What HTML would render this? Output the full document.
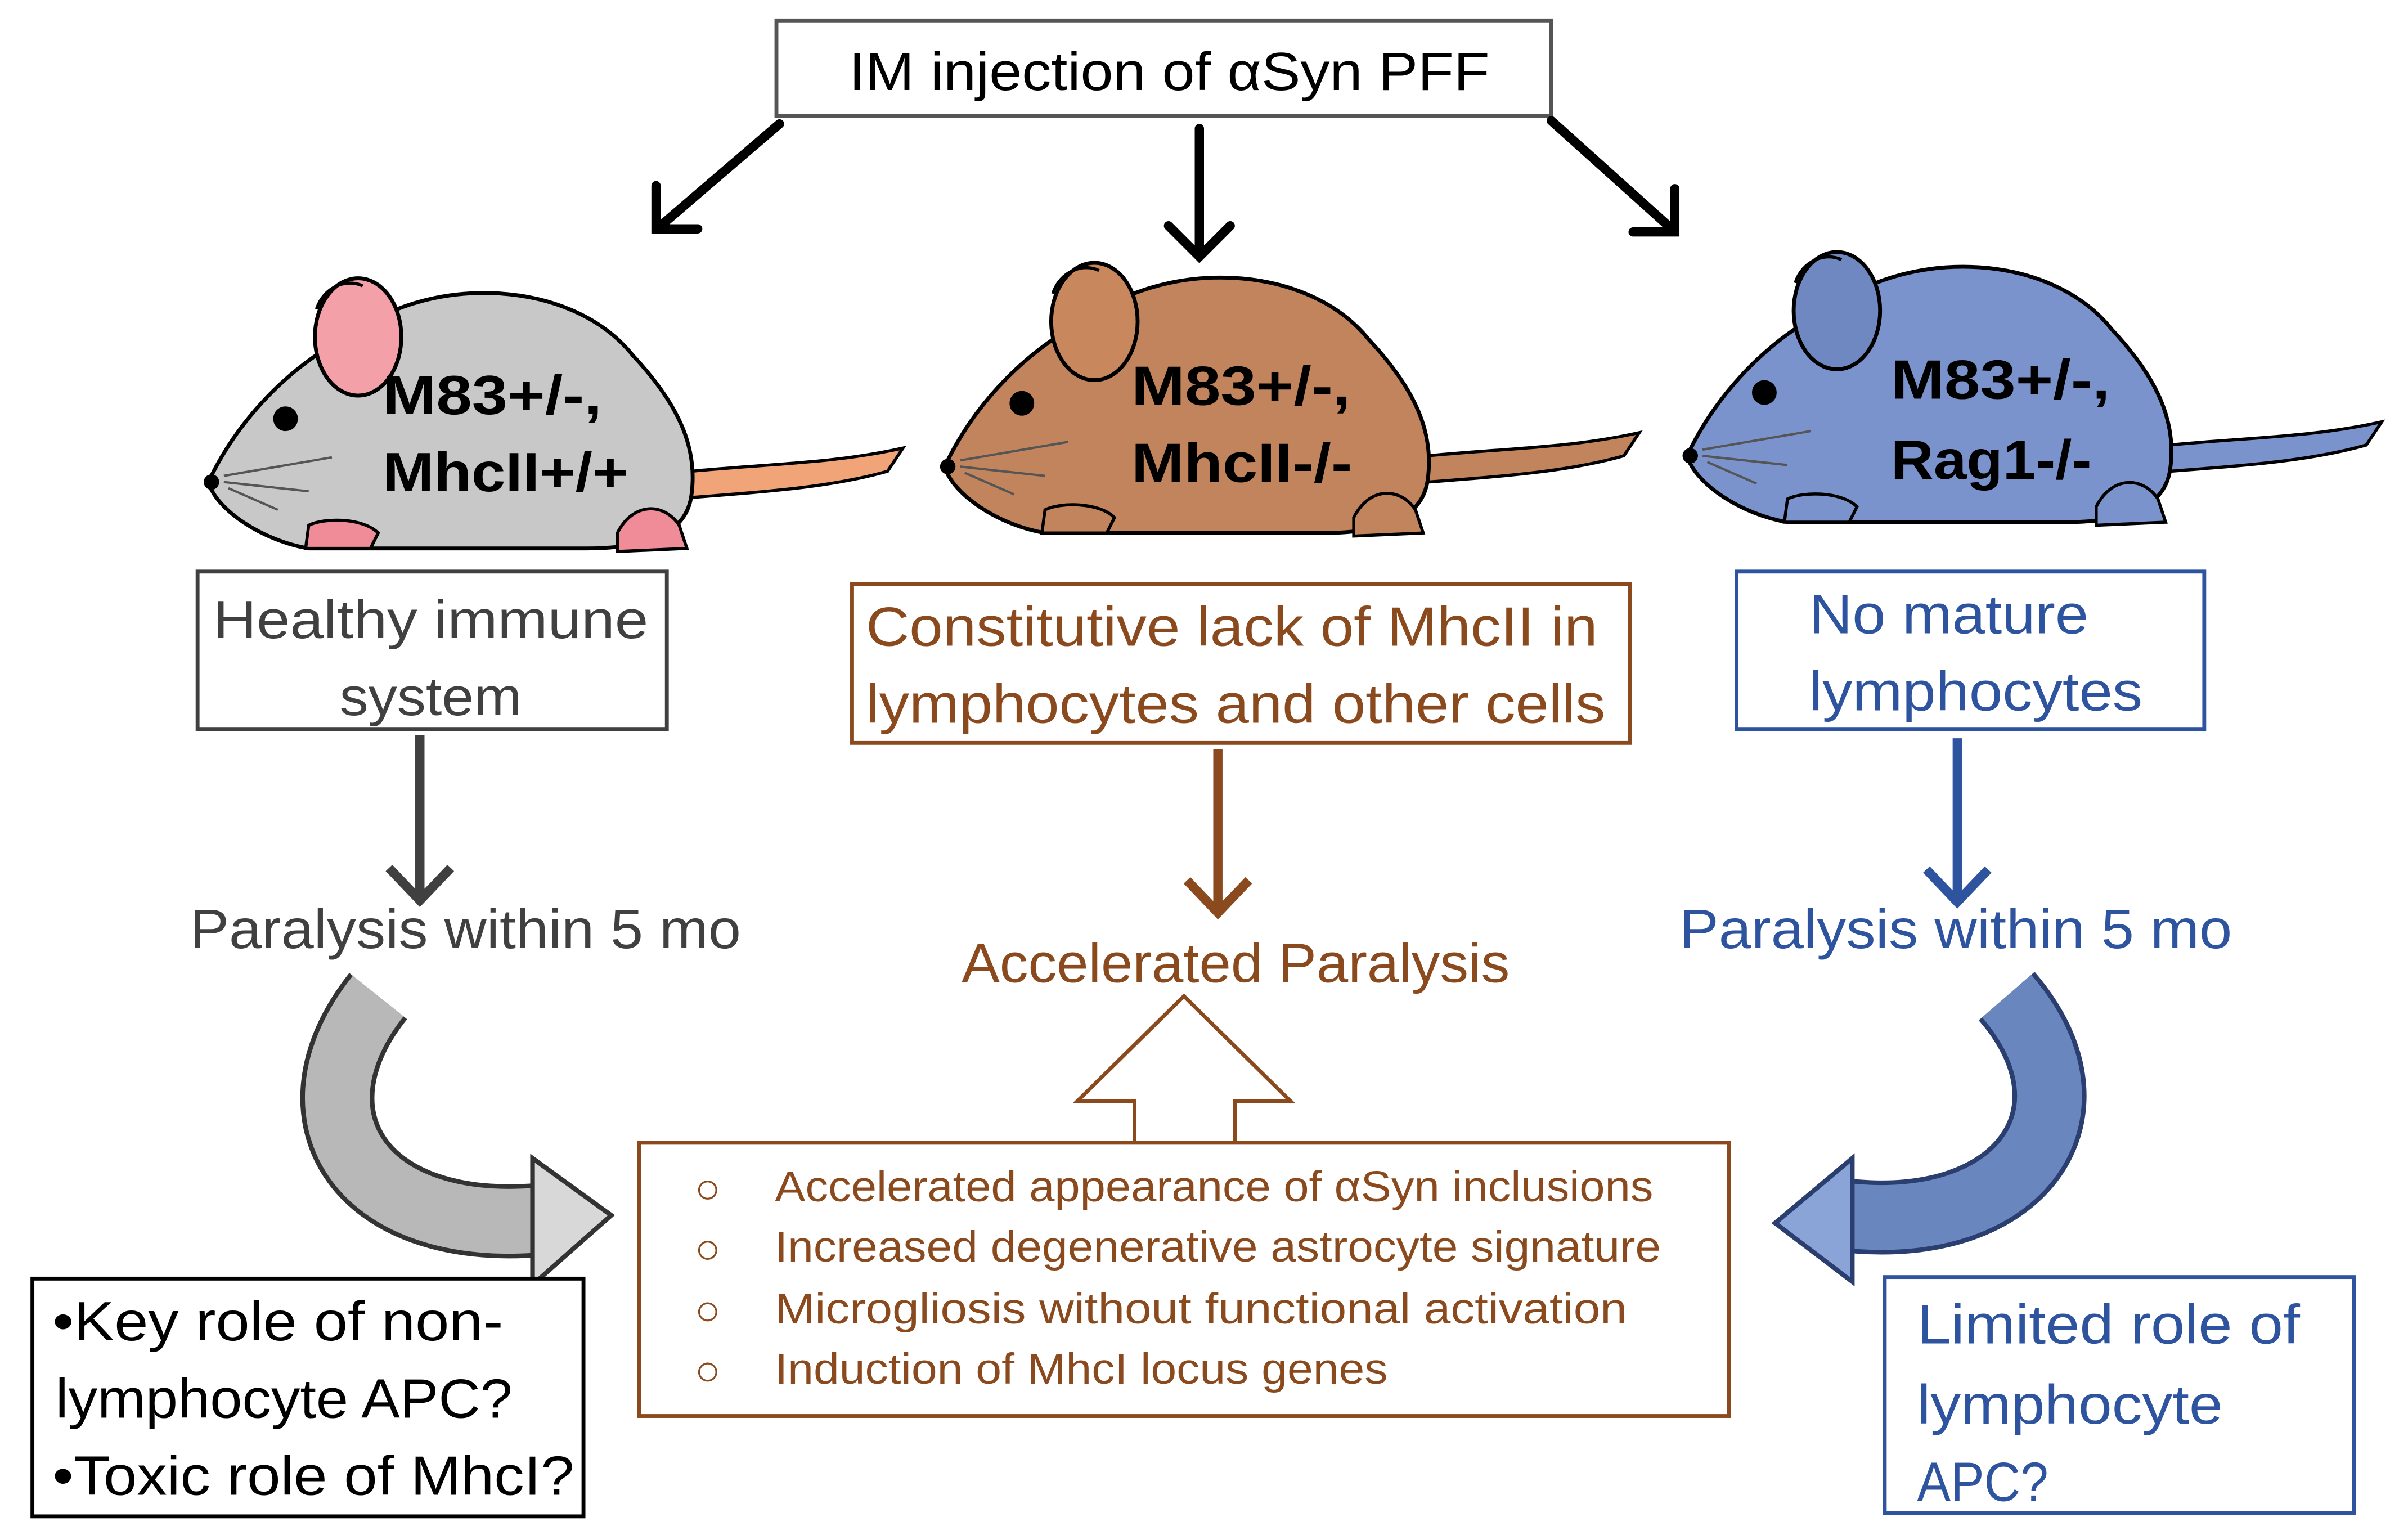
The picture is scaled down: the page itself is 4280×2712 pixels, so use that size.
<!DOCTYPE html>
<html><head><meta charset="utf-8"><style>
html,body{margin:0;padding:0;background:#fff;}
svg{display:block;}
text{font-family:"Liberation Sans","DejaVu Sans",sans-serif;}
</style></head><body>
<svg width="4280" height="2712" viewBox="0 0 1560 988" xmlns="http://www.w3.org/2000/svg">
<defs>
<g id="mouse">
  <path d="M448,305 C500,300 540,300 585,290 L575,305 C540,315 500,318 448,322 Z" fill="var(--tail)" stroke="#000" stroke-width="2"/>
  <path d="M135,312 C150,280 180,240 230,215 C280,178 370,180 410,230 C440,262 452,290 448,320 C445,345 420,355 380,355 L200,355 C170,350 140,330 135,312 Z" fill="var(--body)" stroke="#000" stroke-width="2.5"/>
  <path d="M200,340 C210,335 235,335 245,345 L240,355 L198,355 Z" fill="var(--foot)" stroke="#000" stroke-width="2"/>
  <path d="M400,345 C410,325 430,325 440,340 L445,355 L400,357 Z" fill="var(--foot)" stroke="#000" stroke-width="2"/>
  <ellipse cx="232" cy="218" rx="28" ry="38" fill="var(--ear)" stroke="#000" stroke-width="2.5"/>
  <path d="M205,200 C210,185 225,180 235,185" fill="none" stroke="#000" stroke-width="2"/>
  <circle cx="185" cy="271" r="8" fill="#000"/>
  <circle cx="137" cy="312" r="5" fill="#000"/>
  <path d="M145,308 L215,296 M145,312 L200,318 M148,316 L180,330" stroke="#555" stroke-width="1.5" fill="none"/>
</g>
</defs>
<rect x="0" y="0" width="1560" height="988" fill="#fff"/>

<!-- top -->
<rect x="503" y="13" width="502" height="62" fill="#fff" stroke="#555" stroke-width="2.5"/>
<text x="550" y="58" font-size="35" textLength="415" lengthAdjust="spacingAndGlyphs" fill="#000">IM injection of αSyn PFF</text>
<g stroke="#000" stroke-width="6" fill="none" stroke-linecap="round">
  <path d="M505,80 L428,146 M425,120 L425,148 L452,148"/>
  <path d="M777,83 L777,165 M757,146 L777,166 L797,146"/>
  <path d="M1005,78 L1083,148 M1058,150 L1085,150 L1085,122"/>
</g>

<!-- mice -->
<g style="--body:#c8c8c8;--ear:#f4a0a8;--tail:#f0a478;--foot:#f08c98"><use href="#mouse"/></g>
<g transform="translate(477,-10)" style="--body:#c2845c;--ear:#c8875c;--tail:#c2845c;--foot:#c2845c"><use href="#mouse"/></g>
<g transform="translate(958,-17)" style="--body:#7b93cc;--ear:#7088c2;--tail:#7b93cc;--foot:#7b93cc"><use href="#mouse"/></g>
<g font-size="36" font-weight="bold" fill="#000" lengthAdjust="spacingAndGlyphs">
  <text x="248" y="268" textLength="142" lengthAdjust="spacingAndGlyphs">M83+/-,</text><text x="248" y="318" textLength="159" lengthAdjust="spacingAndGlyphs">MhcII+/+</text>
  <text x="733" y="262" textLength="142" lengthAdjust="spacingAndGlyphs">M83+/-,</text><text x="733" y="312" textLength="143" lengthAdjust="spacingAndGlyphs">MhcII-/-</text>
  <text x="1225" y="258" textLength="142" lengthAdjust="spacingAndGlyphs">M83+/-,</text><text x="1225" y="310" textLength="130" lengthAdjust="spacingAndGlyphs">Rag1-/-</text>
</g>

<!-- boxes -->
<rect x="128" y="370" width="304" height="102" fill="#fff" stroke="#404040" stroke-width="2.5"/>
<text x="138" y="413" font-size="35" textLength="282" lengthAdjust="spacingAndGlyphs" fill="#404040">Healthy immune</text>
<text x="220" y="463" font-size="35" textLength="118" lengthAdjust="spacingAndGlyphs" fill="#404040">system</text>
<rect x="552" y="378" width="504" height="103" fill="#fff" stroke="#8a4a1e" stroke-width="2.5"/>
<text x="561" y="418" font-size="36" textLength="474" lengthAdjust="spacingAndGlyphs" fill="#8a4a1e">Constitutive lack of MhcII in</text>
<text x="561" y="468" font-size="36" textLength="479" lengthAdjust="spacingAndGlyphs" fill="#8a4a1e">lymphocytes and other cells</text>
<rect x="1125" y="370" width="303" height="102" fill="#fff" stroke="#2e54a0" stroke-width="2.5"/>
<text x="1172" y="410" font-size="36" textLength="181" lengthAdjust="spacingAndGlyphs" fill="#2e54a0">No mature</text>
<text x="1172" y="460" font-size="36" textLength="216" lengthAdjust="spacingAndGlyphs" fill="#2e54a0">lymphocytes</text>

<g stroke-width="6" fill="none">
  <path d="M272,476 L272,582 M252,562 L272,583 L292,562" stroke="#404040"/>
  <path d="M789,485 L789,590 M769,570 L789,591 L809,570" stroke="#8a4a1e"/>
  <path d="M1268,478 L1268,583 M1248,563 L1268,584 L1288,563" stroke="#2e54a0"/>
</g>
<text x="123" y="614" font-size="36" textLength="357" lengthAdjust="spacingAndGlyphs" fill="#404040">Paralysis within 5 mo</text>
<text x="623" y="636" font-size="36" textLength="355" lengthAdjust="spacingAndGlyphs" fill="#8a4a1e">Accelerated Paralysis</text>
<text x="1088" y="614" font-size="36" textLength="358" lengthAdjust="spacingAndGlyphs" fill="#2e54a0">Paralysis within 5 mo</text>

<!-- curved arrows -->
<path d="M245,645 C185,720 230,800 350,790" fill="none" stroke="#333" stroke-width="48"/>
<path d="M245,645 C185,720 230,800 350,790" fill="none" stroke="#b8b8b8" stroke-width="42"/>
<polygon points="345,750 396,787 345,832" fill="#d8d8d8" stroke="#333" stroke-width="3"/>
<path d="M1300,645 C1365,720 1310,800 1195,787" fill="none" stroke="#2a3f70" stroke-width="48"/>
<path d="M1300,645 C1365,720 1310,800 1195,787" fill="none" stroke="#6a86bf" stroke-width="42"/>
<polygon points="1200,750 1150,792 1200,830" fill="#8aa4d8" stroke="#2a3f70" stroke-width="3"/>

<!-- hollow up arrow -->
<polygon points="767,645 836,713 800,713 800,742 735,742 735,713 698,713" fill="#fff" stroke="#8a4a1e" stroke-width="2.5"/>

<rect x="414" y="740" width="706" height="177" fill="#fff" stroke="#8a4a1e" stroke-width="2.5"/>
<g font-size="28" fill="#8a4a1e">
  <text x="450" y="779">○</text><text x="502" y="778" textLength="569" lengthAdjust="spacingAndGlyphs">Accelerated appearance of αSyn inclusions</text>
  <text x="450" y="818">○</text><text x="502" y="817" textLength="574" lengthAdjust="spacingAndGlyphs">Increased degenerative astrocyte signature</text>
  <text x="450" y="858">○</text><text x="502" y="857" textLength="552" lengthAdjust="spacingAndGlyphs">Microgliosis without functional activation</text>
  <text x="450" y="897">○</text><text x="502" y="896" textLength="397" lengthAdjust="spacingAndGlyphs">Induction of MhcI locus genes</text>
</g>

<rect x="21" y="828" width="357" height="154" fill="#fff" stroke="#000" stroke-width="2.5"/>
<g font-size="36" fill="#000">
  <text x="34" y="868" textLength="292" lengthAdjust="spacingAndGlyphs">•Key role of non-</text>
  <text x="36" y="918" textLength="296" lengthAdjust="spacingAndGlyphs">lymphocyte APC?</text>
  <text x="34" y="968" textLength="338" lengthAdjust="spacingAndGlyphs">•Toxic role of MhcI?</text>
</g>
<rect x="1221" y="827" width="304" height="153" fill="#fff" stroke="#2e54a0" stroke-width="2.5"/>
<g font-size="36" fill="#2e54a0">
  <text x="1242" y="870" textLength="248" lengthAdjust="spacingAndGlyphs">Limited role of</text>
  <text x="1242" y="922" textLength="198" lengthAdjust="spacingAndGlyphs">lymphocyte</text>
  <text x="1242" y="972" textLength="85" lengthAdjust="spacingAndGlyphs">APC?</text>
</g>
</svg>
</body></html>
